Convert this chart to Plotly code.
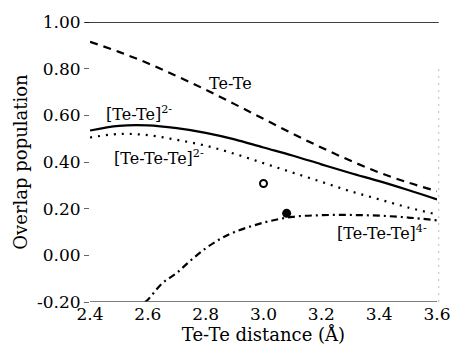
import plotly.graph_objects as go

x_grid = [2.4, 2.5, 2.6, 2.7, 2.8, 2.9, 3.0, 3.1, 3.2, 3.3, 3.4, 3.5, 3.6]
tete_neutral = [0.915, 0.872, 0.823, 0.768, 0.71, 0.648, 0.585, 0.522, 0.462, 0.406, 0.355, 0.312, 0.275]
tete_2minus = [0.535, 0.555, 0.557, 0.545, 0.525, 0.497, 0.462, 0.428, 0.39, 0.353, 0.318, 0.28, 0.24]
tetete_2minus = [0.505, 0.52, 0.515, 0.495, 0.47, 0.435, 0.395, 0.355, 0.315, 0.275, 0.24, 0.205, 0.175]
x_4minus = [2.59, 2.6, 2.65, 2.7, 2.75, 2.8, 2.85, 2.9, 3.0, 3.1, 3.2, 3.3, 3.4, 3.5, 3.6]
tetete_4minus = [-0.2, -0.19, -0.12, -0.075, -0.02, 0.03, 0.07, 0.10, 0.14, 0.165, 0.172, 0.173, 0.17, 0.162, 0.15]
open_pt = ([3.0], [0.308])
filled_pt = ([3.08], [0.18])
x_ticks = [2.4, 2.6, 2.8, 3.0, 3.2, 3.4, 3.6]
x_ticklabels = ["2.4", "2.6", "2.8", "3.0", "3.2", "3.4", "3.6"]
y_ticks = [-0.2, 0.0, 0.2, 0.4, 0.6, 0.8, 1.0]
y_ticklabels = ["-0.20", "0.00", "0.20", "0.40", "0.60", "0.80", "1.00"]

FONT = "DejaVu Serif"
fig = go.Figure()
fig.add_trace(go.Scatter(x=x_grid, y=tete_neutral, mode="lines", line_shape="spline",
                         line=dict(color="black", width=2.2, dash="8px,6px"), name="Te-Te"))
fig.add_trace(go.Scatter(x=x_grid, y=tete_2minus, mode="lines", line_shape="spline",
                         line=dict(color="black", width=2.2), name="[Te-Te]2-"))
fig.add_trace(go.Scatter(x=x_grid, y=tetete_2minus, mode="lines", line_shape="spline",
                         line=dict(color="black", width=2.2, dash="2px,6px"), name="[Te-Te-Te]2-"))
fig.add_trace(go.Scatter(x=x_4minus, y=tetete_4minus, mode="lines", line_shape="spline",
                         line=dict(color="black", width=2.2, dash="7px,4px,2px,4px"), name="[Te-Te-Te]4-"))
fig.add_trace(go.Scatter(x=open_pt[0], y=open_pt[1], mode="markers",
                         marker=dict(symbol="circle-open", size=7, color="black", line=dict(width=2))))
fig.add_trace(go.Scatter(x=filled_pt[0], y=filled_pt[1], mode="markers",
                         marker=dict(symbol="circle", size=9, color="black")))

# frame lines
fig.add_shape(type="line", xref="paper", yref="y", x0=-0.015, x1=1.005, y0=1.0, y1=1.0,
              line=dict(color="black", width=1.6))
fig.add_shape(type="line", xref="paper", yref="y", x0=0, x1=1.0, y0=-0.2, y1=-0.2,
              line=dict(color="#555555", width=1.4))
fig.add_shape(type="line", xref="paper", yref="y", x0=1.005, x1=1.005, y0=-0.2, y1=0.8,
              line=dict(color="#bbbbbb", width=1, dash="2px,5px"))

ann = dict(showarrow=False, font=dict(family=FONT, size=16, color="black"))
fig.add_annotation(x=2.885, y=0.737, text="Te-Te", **ann)
fig.add_annotation(x=2.57, y=0.607, text="[Te-Te]<sup>2-</sup>", **ann)
fig.add_annotation(x=2.64, y=0.42, text="[Te-Te-Te]<sup>2-</sup>", **ann)
fig.add_annotation(x=3.41, y=0.10, text="[Te-Te-Te]<sup>4-</sup>", **ann)

fig.update_layout(
    width=463, height=353,
    margin=dict(l=90, r=18, t=20, b=51),
    plot_bgcolor="white", paper_bgcolor="white",
    showlegend=False,
    font=dict(family=FONT, size=17, color="black"),
    xaxis=dict(range=[2.4, 3.6], tickvals=x_ticks, ticktext=x_ticklabels,
               showgrid=False, zeroline=False, showline=False, ticks="", ticklen=0,
               title=dict(text="Te-Te distance (Å)", standoff=2, font=dict(size=18))),
    yaxis=dict(range=[-0.2, 1.0], tickvals=y_ticks, ticktext=y_ticklabels,
               showgrid=False, zeroline=False, showline=False,
               ticks="outside", ticklen=5, tickcolor="#666666",
               title=dict(text="Overlap population", standoff=4, font=dict(size=18))),
)
fig.write_html("out.html")
